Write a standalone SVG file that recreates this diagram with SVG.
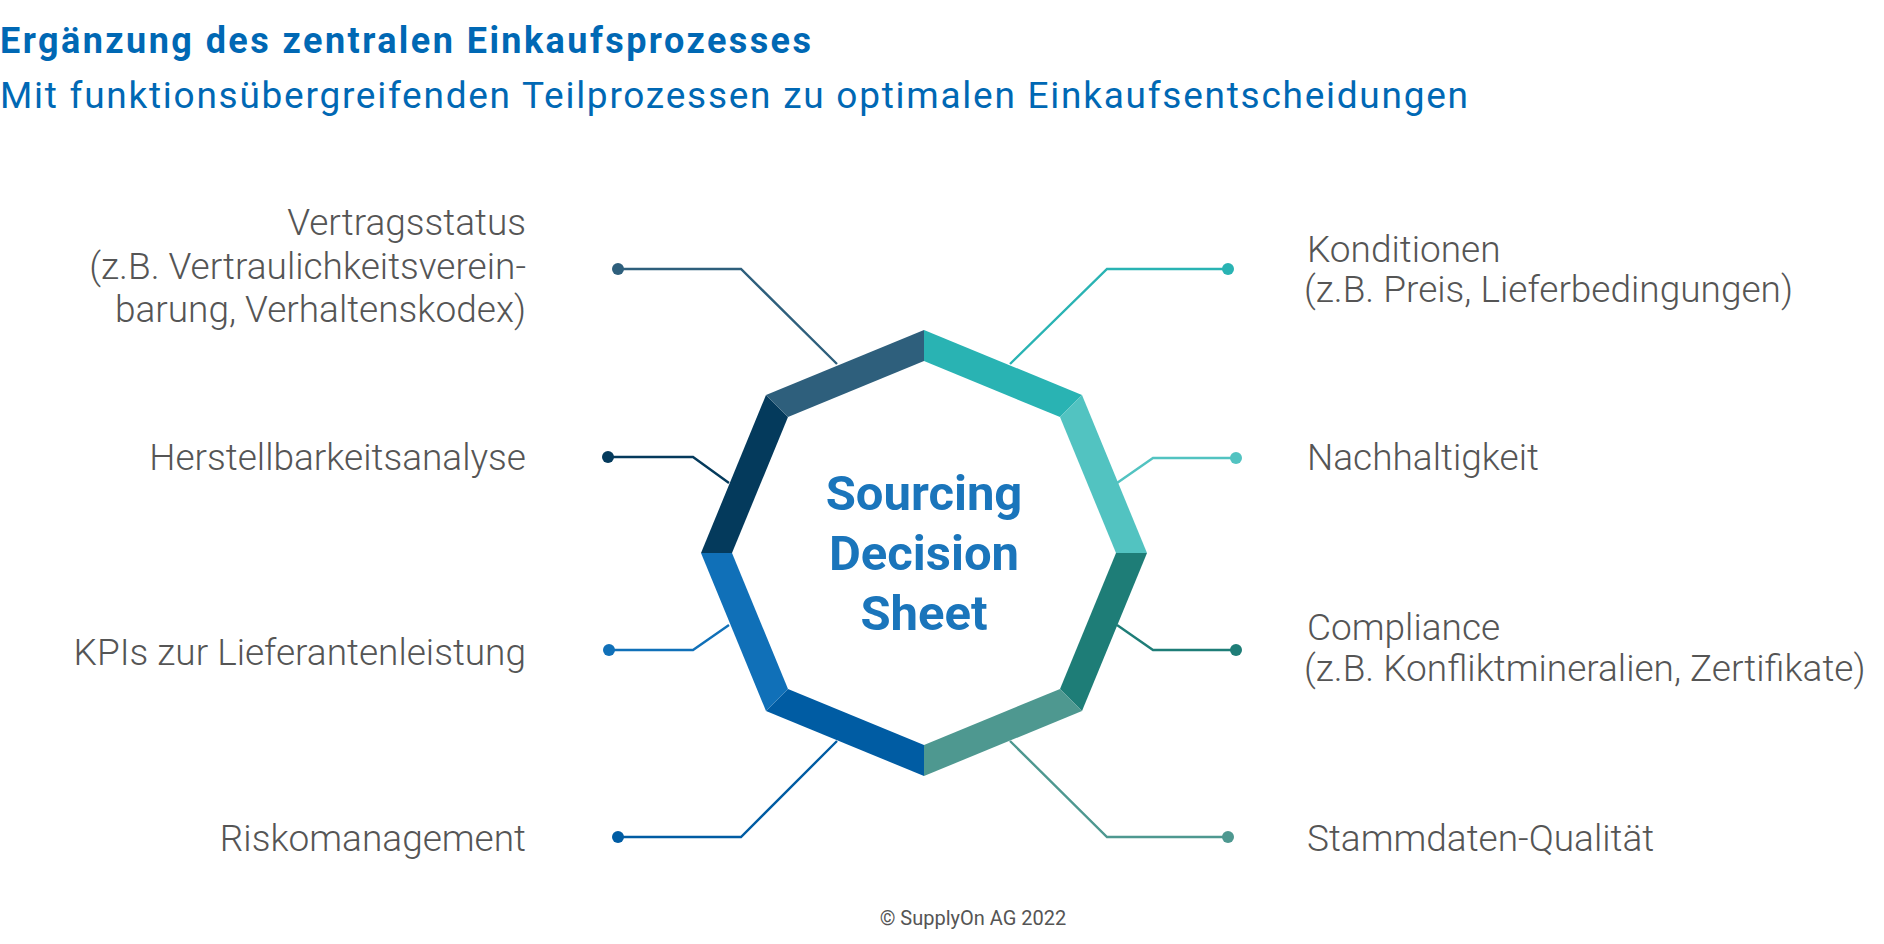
<svg xmlns="http://www.w3.org/2000/svg" width="1884" height="944" viewBox="0 0 1884 944">
<style>
.t{font-family:Roboto,"Liberation Sans",sans-serif}
.lbl{font-family:Roboto,"Liberation Sans",sans-serif;font-size:37px;fill:#555;font-weight:300}
.l{text-anchor:end}
.c{fill:none;stroke-width:2.4}
.ctr{font-family:Roboto,"Liberation Sans",sans-serif;font-size:49px;font-weight:bold;fill:#1A75BB;text-anchor:middle}
</style>
<rect width="1884" height="944" fill="#fff"/>
<text class="t" x="0" y="53" font-size="36" font-weight="bold" fill="#0068B4" textLength="811">Ergänzung des zentralen Einkaufsprozesses</text>
<text class="t" x="0" y="108" font-size="37" fill="#0068B4" textLength="1468">Mit funktionsübergreifenden Teilprozessen zu optimalen Einkaufsentscheidungen</text>
<g id="octagon">
<polygon points="924,330 1082,395 1060,417 924,361" fill="#29B3B3"/>
<polygon points="1082,395 1147,553 1116,553 1060,417" fill="#52C3C1"/>
<polygon points="1147,553 1082,711 1060,689 1116,553" fill="#1E7D77"/>
<polygon points="1082,711 924,776 924,745 1060,689" fill="#4E9890"/>
<polygon points="924,776 766,711 788,689 924,745" fill="#005CA3"/>
<polygon points="766,711 701,553 732,553 788,689" fill="#1070B8"/>
<polygon points="701,553 766,395 788,417 732,553" fill="#043A5C"/>
<polygon points="766,395 924,330 924,361 788,417" fill="#2E5F7C"/>
<text class="ctr" x="924" y="510">Sourcing</text>
<text class="ctr" x="924" y="570">Decision</text>
<text class="ctr" x="924" y="630">Sheet</text>
</g>
<g id="connectors">
<polyline class="c" stroke="#2E5F7C" points="618,269 741,269 837,364"/><circle cx="618" cy="269" r="6" fill="#2E5F7C"/>
<polyline class="c" stroke="#29B3B3" points="1228,269 1107,269 1010,364"/><circle cx="1228" cy="269" r="6" fill="#29B3B3"/>
<polyline class="c" stroke="#043A5C" points="608,457 693,457 729,483"/><circle cx="608" cy="457" r="6" fill="#043A5C"/>
<polyline class="c" stroke="#52C3C1" points="1236,458 1153,458 1117,483"/><circle cx="1236" cy="458" r="6" fill="#52C3C1"/>
<polyline class="c" stroke="#1070B8" points="609,650 693,650 729,625"/><circle cx="609" cy="650" r="6" fill="#1070B8"/>
<polyline class="c" stroke="#1E7D77" points="1236,650 1153,650 1117,625"/><circle cx="1236" cy="650" r="6" fill="#1E7D77"/>
<polyline class="c" stroke="#005CA3" points="618,837 741,837 837,741"/><circle cx="618" cy="837" r="6" fill="#005CA3"/>
<polyline class="c" stroke="#4E9890" points="1228,837 1107,837 1010,741"/><circle cx="1228" cy="837" r="6" fill="#4E9890"/>
</g>
<g id="n-vertrag"><text class="lbl l" x="526" y="235">Vertragsstatus</text><text class="lbl l" x="526" y="279">(z.B. Vertraulichkeitsverein-</text><text class="lbl l" x="526" y="322">barung, Verhaltenskodex)</text></g>
<g id="n-herst"><text class="lbl l" x="526" y="470">Herstellbarkeitsanalyse</text></g>
<g id="n-kpi"><text class="lbl l" x="526" y="665">KPIs zur Lieferantenleistung</text></g>
<g id="n-risk"><text class="lbl l" x="526" y="851">Riskomanagement</text></g>
<g id="n-kond"><text class="lbl" x="1307" y="262">Konditionen</text><text class="lbl" x="1304" y="302">(z.B. Preis, Lieferbedingungen)</text></g>
<g id="n-nach"><text class="lbl" x="1307" y="470">Nachhaltigkeit</text></g>
<g id="n-comp"><text class="lbl" x="1307" y="640">Compliance</text><text class="lbl" x="1304" y="681">(z.B. Konfliktmineralien, Zertifikate)</text></g>
<g id="n-stamm"><text class="lbl" x="1307" y="851">Stammdaten-Qualität</text></g>
<text class="t" x="973" y="925" font-size="20" fill="#555" text-anchor="middle">© SupplyOn AG 2022</text>
</svg>
